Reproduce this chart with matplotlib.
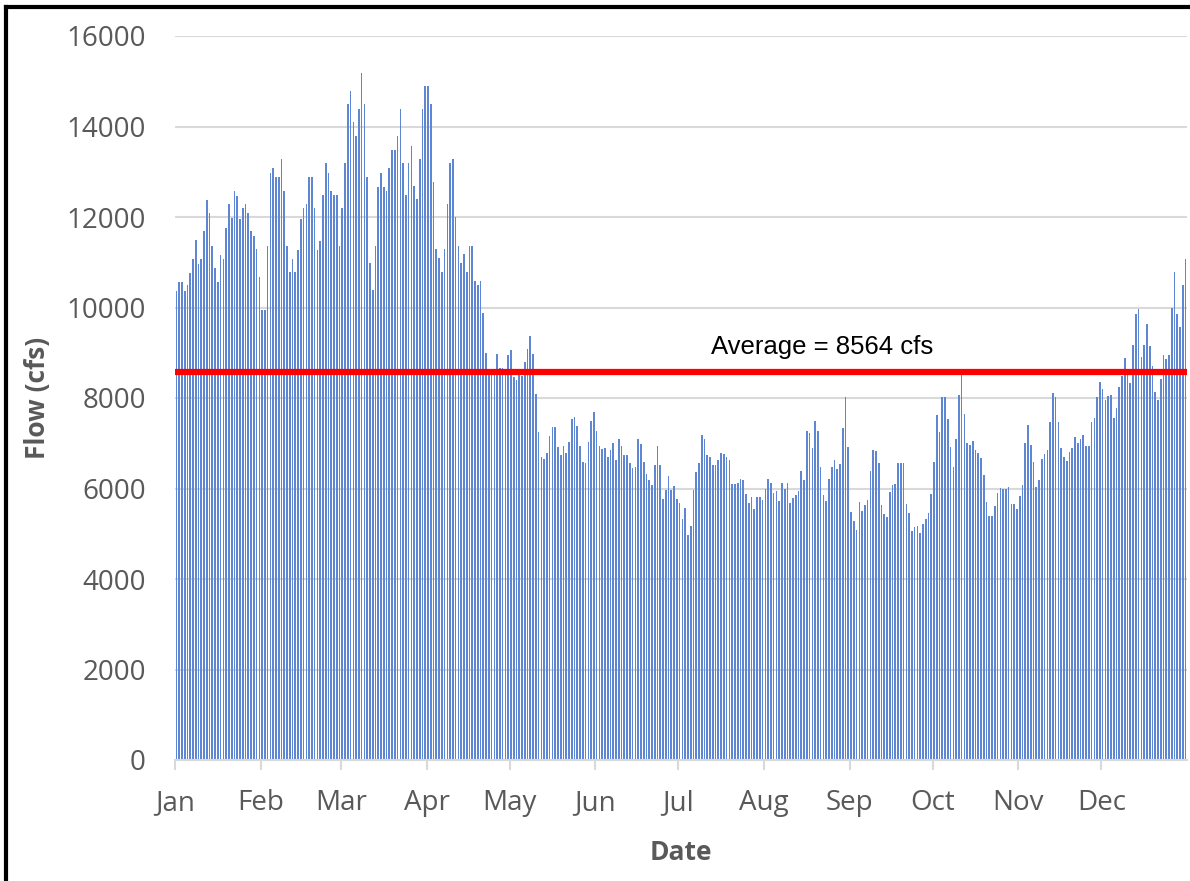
import numpy as np
import matplotlib
matplotlib.use("Agg")
import matplotlib.pyplot as plt
from matplotlib.lines import Line2D

# daily flow (cfs), one list per month (leap year)
jan = [10370, 10570, 10570, 10370, 10490, 10770, 11080, 11490, 10970, 11080, 11680, 12380, 12080, 11360, 10880, 10570,
       11170, 11080, 11760, 12280, 11970, 12580, 12470, 11950, 12190, 12290, 12080, 11680, 11570, 11290, 10680]
feb = [9950, 9950, 11370, 12980, 13080, 12880, 12880, 13280, 12580, 11370, 10780, 11080, 10780, 11280, 11960, 12190,
       12280, 12880, 12880, 12190, 11280, 11480, 12480, 13190, 12980, 12580, 12480, 12480, 11370]
mar = [12190, 13190, 14500, 14780, 14090, 13790, 14380, 15180, 14500, 12880, 10980, 10390, 11370, 12670, 12980, 12670,
       12580, 13080, 13480, 13480, 13780, 14380, 13190, 12490, 13190, 13580, 12680, 12390, 13280, 14380, 14900]
apr = [14900, 14500, 12780, 11290, 11090, 10790, 11290, 12280, 13190, 13280, 12000, 11370, 10980, 11180, 10790, 11370,
       11370, 10590, 10490, 10590, 9870, 9000, 8650, 8600, 8620, 8980, 8660, 8670, 8600, 8950]
may = [9060, 8460, 8400, 8510, 8480, 8800, 9090, 9370, 8970, 8090, 7240, 6700, 6650, 6790, 7160, 7350,
       7350, 6910, 6740, 6950, 6790, 7030, 7530, 7590, 7380, 6950, 6590, 6560, 7030, 7500, 7700]
jun = [7270, 6940, 6870, 6900, 6700, 6850, 7010, 6630, 7100, 6930, 6730, 6730, 6560, 6450, 6480, 7100,
       6980, 6590, 6310, 6190, 6080, 6510, 6940, 6510, 5770, 5970, 6280, 5970, 6050, 5770]
jul = [5680, 5320, 5560, 4970, 5180, 5970, 6370, 6570, 7180, 7100, 6730, 6700, 6510, 6510, 6630, 6790,
       6760, 6700, 6630, 6100, 6100, 6130, 6220, 6190, 5880, 5670, 5820, 5540, 5820, 5820, 5750]
aug = [6000, 6220, 6130, 5890, 5950, 5730, 6130, 6000, 6130, 5670, 5790, 5860, 5940, 6390, 6190, 7280,
       7230, 6900, 7500, 7260, 6470, 5860, 5730, 6220, 6470, 6630, 6420, 6540, 7330, 8020, 6910]
sep = [5480, 5280, 5080, 5710, 5510, 5630, 5750, 6390, 6850, 6820, 6560, 5630, 5430, 5380, 5930, 6070,
       6110, 6560, 6560, 6560, 5660, 5450, 5070, 5140, 5170, 5010, 5220, 5320, 5450, 5880]
octo = [6590, 7620, 7250, 8020, 8020, 7530, 6910, 6480, 7100, 8070, 8510, 7650, 7000, 6960, 7050, 6850,
        6780, 6670, 6300, 5710, 5390, 5390, 5620, 5910, 6020, 6000, 6000, 6040, 5660, 5660, 5540]
nov = [5830, 6070, 7000, 7400, 6960, 6590, 6030, 6190, 6650, 6760, 6850, 7460, 8120, 8020, 7480, 6900,
       6700, 6600, 6800, 6900, 7130, 7000, 7100, 7180, 6950, 6950, 7470, 7550, 8030, 8350]
dec = [8200, 7950, 8050, 8070, 7550, 7790, 8240, 8490, 8890, 8500, 8330, 9170, 9860, 9970, 8910, 9170,
       9630, 9150, 8710, 8130, 7960, 8420, 8940, 8870, 8940, 9980, 10780, 9860, 9580, 10490, 11080]

months = [jan, feb, mar, apr, may, jun, jul, aug, sep, octo, nov, dec]
month_labels = ['Jan', 'Feb', 'Mar', 'Apr', 'May', 'Jun', 'Jul', 'Aug', 'Sep', 'Oct', 'Nov', 'Dec']
avg_flow = 8564
avg_label = 'Average = 8564 cfs'

flow = np.concatenate([np.array(m, dtype=float) for m in months])
days = np.arange(len(flow))
month_start = np.concatenate([[0], np.cumsum([len(m) for m in months])[:-1]]) - 0.5

grey = '#595959'
plt.rcParams['font.family'] = ['Open Sans', 'DejaVu Sans']

fig = plt.figure(figsize=(11.9, 8.81), dpi=100)
ax = fig.add_axes([175/1190, 1-760/881, (1187-175)/1190, (760-36)/881])

ax.bar(days, flow, width=0.6, color='#5f86d3', linewidth=0, zorder=2)
ax.axhline(avg_flow, color='#ff0000', lw=4.5, zorder=3)
ax.text(193.5, 9130, avg_label, fontsize=18.5, family=['Liberation Sans'], color='black',
        ha='left', va='center', zorder=4)

ax.set_xlim(-0.5, len(flow) - 0.5)
ax.set_ylim(0, 16000)
ax.set_yticks(np.arange(0, 16001, 2000))
ax.set_xticks(month_start)
ax.set_xticklabels(month_labels)

ax.grid(axis='y', color='#d9d9d9', lw=1.5, zorder=0)
ax.set_axisbelow(True)
for s in ['top', 'right', 'left']:
    ax.spines[s].set_visible(False)
ax.spines['bottom'].set_color('#d9d9d9')
ax.spines['bottom'].set_linewidth(1.5)

ax.tick_params(axis='y', length=0, pad=21, labelsize=20, labelcolor=grey)
ax.tick_params(axis='x', length=7, width=1.5, color='#d9d9d9', pad=14, labelsize=20, labelcolor=grey)

ax.set_xlabel('Date', fontsize=19, fontweight='bold', color=grey, labelpad=16)
ax.set_ylabel('Flow (cfs)', fontsize=19, fontweight='bold', color=grey, labelpad=11)

# black frame of the screenshot (left and top only visible)
fig.add_artist(Line2D([6/1190, 6/1190], [0, 1-7/881], transform=fig.transFigure, color='black', lw=3))
fig.add_artist(Line2D([6/1190, 1], [1-7/881, 1-7/881], transform=fig.transFigure, color='black', lw=3))

fig.savefig('out.png', dpi=100)
